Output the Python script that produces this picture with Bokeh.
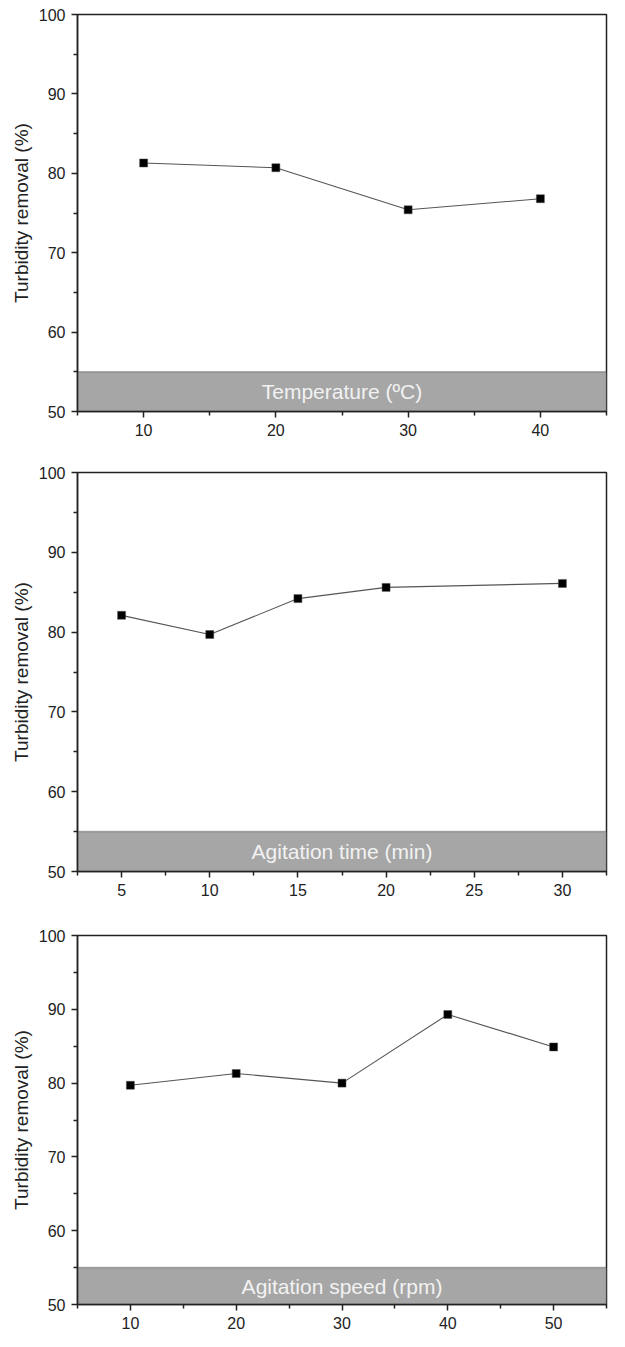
from bokeh.plotting import figure
from bokeh.layouts import column
from bokeh.models import BoxAnnotation, Label, FixedTicker, Range1d
from bokeh.embed import file_html
from bokeh.resources import INLINE

# ---- data ----
temp_x = [10, 20, 30, 40]
temp_y = [81.3, 80.7, 75.4, 76.8]

time_x = [5, 10, 15, 20, 30]
time_y = [82.1, 79.7, 84.2, 85.6, 86.1]

speed_x = [10, 20, 30, 40, 50]
speed_y = [79.7, 81.3, 80.0, 89.3, 84.9]

y_label = "Turbidity removal (%)"
y_major = [50, 60, 70, 80, 90, 100]
y_minor = [55, 65, 75, 85, 95]

FONT = "Liberation Sans"


def panel(xs, ys, xr, xmaj, xmin, band_text, height, top, bottom, left):
    p = figure(width=609, height=height, output_backend="svg", toolbar_location=None,
               x_range=Range1d(*xr), y_range=Range1d(50, 100),
               min_border_top=top, min_border_bottom=bottom, min_border_left=left,
               min_border_right=3)
    p.grid.visible = False
    p.outline_line_color = "#222222"
    p.outline_line_width = 1.5
    p.background_fill_color = "white"
    p.border_fill_color = "white"

    band = BoxAnnotation(bottom=50, top=55, fill_color="#a6a6a6", fill_alpha=1.0,
                         line_color="#222222", line_width=1.5, level="underlay")
    p.add_layout(band)
    lab = Label(x=(xr[0] + xr[1]) / 2, y=52.5, text=band_text, text_align="center",
                text_baseline="middle", text_color="#f2f2f2", text_font=FONT,
                text_font_size="21px")
    p.add_layout(lab)

    p.line(xs, ys, line_color="#555555", line_width=1.1)
    p.scatter(xs, ys, marker="square", size=8, fill_color="black", line_color="#555555",
              line_width=0.5)

    for ax in (p.xaxis[0], p.yaxis[0]):
        ax.axis_line_color = "#222222"
        ax.axis_line_width = 1.5
        ax.major_tick_line_color = "#222222"
        ax.minor_tick_line_color = "#222222"
        ax.major_tick_line_width = 1.5
        ax.minor_tick_line_width = 1.5
        ax.major_tick_out = 6
        ax.major_tick_in = 0
        ax.minor_tick_out = 4
        ax.minor_tick_in = 0
        ax.major_label_text_font = FONT
        ax.major_label_text_font_size = "16px"
        ax.major_label_text_color = "#222222"
        ax.major_label_standoff = 6

    p.xaxis.ticker = FixedTicker(ticks=xmaj, minor_ticks=xmin)
    p.yaxis.ticker = FixedTicker(ticks=y_major, minor_ticks=y_minor)
    p.yaxis.axis_label = y_label
    p.yaxis.axis_label_text_font = FONT
    p.yaxis.axis_label_text_font_style = "normal"
    p.yaxis.axis_label_text_font_size = "19px"
    p.yaxis.axis_label_text_color = "#222222"
    p.yaxis.axis_label_standoff = 4
    return p


p1 = panel(temp_x, temp_y, (5, 45), [10, 20, 30, 40], [5, 15, 25, 35, 45],
           "Temperature (ºC)", 438, 14, 25, 70)
p2 = panel(time_x, time_y, (2.5, 32.5), [5, 10, 15, 20, 25, 30],
           [2.5, 7.5, 12.5, 17.5, 22.5, 27.5, 32.5],
           "Agitation time (min)", 460, 34, 26, 72)
p3 = panel(speed_x, speed_y, (5, 55), [10, 20, 30, 40, 50], [5, 15, 25, 35, 45, 55],
           "Agitation speed (rpm)", 433, 37, 24, 77)

layout = column(p1, p2, p3, spacing=0)
open("out.html", "w").write(file_html(layout, INLINE))
